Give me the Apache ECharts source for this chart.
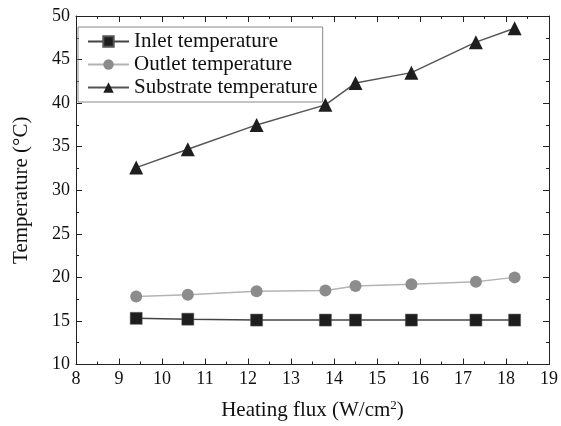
<!DOCTYPE html>
<html>
<head>
<meta charset="utf-8">
<script src="https://cdn.jsdelivr.net/npm/echarts@6/dist/echarts.min.js"></script>
<style>html,body{margin:0;padding:0;background:#fff}#c{width:561px;height:426px}</style>
</head>
<body>
<div id="c"></div>
<script>
var heatingFlux = [9.4, 10.6, 12.2, 13.8, 14.5, 15.8, 17.3, 18.2];
var inletTemp = [15.3, 15.2, 15.1, 15.1, 15.1, 15.1, 15.1, 15.1];
var outletTemp = [17.8, 18.0, 18.4, 18.5, 19.0, 19.2, 19.5, 20.0];
var substrateTemp = [32.6, 34.7, 37.5, 39.8, 42.3, 43.5, 47.0, 48.6];
var seriesNames = ['Inlet temperature', 'Outlet temperature', 'Substrate temperature'];

function pairs(xs, ys) { return xs.map(function (x, i) { return [x, ys[i]]; }); }

var FONT = '"Liberation Serif", "DejaVu Serif", serif';
var chart = echarts.init(document.getElementById('c'));
var axisBase = {
  axisLine: { show: true, onZero: false, lineStyle: { color: '#222', width: 1 } },
  axisTick: { show: true, inside: true, length: 6, lineStyle: { color: '#222' } },
  minorTick: { show: true, splitNumber: 2, length: 3, lineStyle: { color: '#222' } },
  splitLine: { show: false },
  minorSplitLine: { show: false }
};
chart.setOption({
  animation: false,
  backgroundColor: '#fff',
  grid: { left: 76, right: 10, top: 16, bottom: 58, containLabel: false },
  legend: {
    left: 78, top: 27, orient: 'vertical',
    data: seriesNames,
    itemWidth: 41, itemHeight: 13, itemGap: 2,
    padding: [4, 5, 4, 9],
    borderColor: '#888', borderWidth: 1,
    textStyle: { fontFamily: FONT, fontSize: 21, color: '#111', lineHeight: 21 }
  },
  xAxis: [
    Object.assign({}, axisBase, {
      type: 'value', min: 8, max: 19, interval: 1, position: 'bottom',
      name: 'Heating flux (W/cm{sup|2})', nameLocation: 'middle', nameGap: 35,
      nameTextStyle: { fontFamily: FONT, fontSize: 21, color: '#111',
        rich: { sup: { fontFamily: FONT, fontSize: 13, verticalAlign: 'top', padding: [0, 0, 9, 0], color: '#111' } } },
      axisLabel: { fontFamily: FONT, fontSize: 18, color: '#111', margin: 6 }
    }),
    Object.assign({}, axisBase, {
      type: 'value', min: 8, max: 19, interval: 1, position: 'top',
      axisLabel: { show: false }
    })
  ],
  yAxis: [
    Object.assign({}, axisBase, {
      type: 'value', min: 10, max: 50, interval: 5, position: 'left',
      name: 'Temperature (°C)', nameLocation: 'middle', nameGap: 44,
      nameTextStyle: { fontFamily: FONT, fontSize: 21, color: '#111' },
      axisLabel: { fontFamily: FONT, fontSize: 18, color: '#111', margin: 6 }
    }),
    Object.assign({}, axisBase, {
      type: 'value', min: 10, max: 50, interval: 5, position: 'right',
      axisLabel: { show: false }
    })
  ],
  series: [
    {
      name: seriesNames[0], type: 'line', data: pairs(heatingFlux, inletTemp),
      symbol: 'rect', symbolSize: 12,
      itemStyle: { color: '#1e1e1e', borderColor: '#555', borderWidth: 0.5 },
      lineStyle: { color: '#444', width: 1.5 }
    },
    {
      name: seriesNames[1], type: 'line', data: pairs(heatingFlux, outletTemp),
      symbol: 'circle', symbolSize: 12,
      itemStyle: { color: '#8c8c8c' },
      lineStyle: { color: '#b4b4b4', width: 1.5 }
    },
    {
      name: seriesNames[2], type: 'line', data: pairs(heatingFlux, substrateTemp),
      symbol: 'triangle', symbolSize: 14,
      itemStyle: { color: '#1e1e1e' },
      lineStyle: { color: '#555', width: 1.5 }
    }
  ]
});
</script>
</body>
</html>
